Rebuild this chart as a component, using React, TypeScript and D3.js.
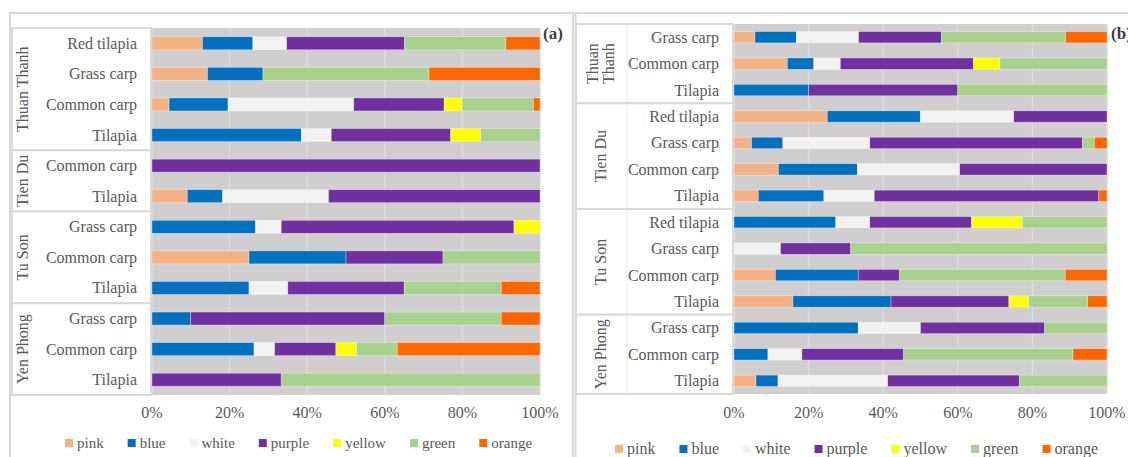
import React, { useMemo } from "react";
import * as d3 from "d3";

// Colour categories and their fills
const colorNames = ["pink", "blue", "white", "purple", "yellow", "green", "orange"];
const colorFills = ["#F4B183", "#0070C0", "#F2F2F2", "#7030A0", "#FFFF00", "#A9D18E", "#FF6600"];

const tickValues = [0, 0.2, 0.4, 0.6, 0.8, 1];

// Panel (a)
const groupsA = ["Thuan Thanh", "Tien Du", "Tu Son", "Yen Phong"];
const rowGroupA = [0, 0, 0, 0, 1, 1, 2, 2, 2, 3, 3, 3];
const rowLabelsA = [
  "Red tilapia", "Grass carp", "Common carp", "Tilapia",
  "Common carp", "Tilapia",
  "Grass carp", "Common carp", "Tilapia",
  "Grass carp", "Common carp", "Tilapia",
];
// percentages per colour: pink, blue, white, purple, yellow, green, orange
const valuesA = [
  [13.0, 13.0, 8.7, 30.4, 0, 26.1, 8.8],
  [14.3, 14.3, 0, 0, 0, 42.8, 28.6],
  [4.4, 15.2, 32.4, 23.3, 4.6, 18.4, 1.7],
  [0, 38.5, 7.7, 30.8, 7.7, 15.3, 0],
  [0, 0, 0, 100, 0, 0, 0],
  [9.1, 9.1, 27.3, 54.5, 0, 0, 0],
  [0, 26.7, 6.6, 60.0, 6.7, 0, 0],
  [25, 25, 0, 25, 0, 25, 0],
  [0, 25, 10, 30, 0, 25, 10],
  [0, 10, 0, 50, 0, 30, 10],
  [0, 26.3, 5.3, 15.8, 5.3, 10.5, 36.8],
  [0, 0, 0, 33.3, 0, 66.7, 0],
];

// Panel (b)
const groupsB = ["Thuan Thanh", "Tien Du", "Tu Son", "Yen Phong"];
const rowGroupB = [0, 0, 0, 1, 1, 1, 1, 2, 2, 2, 2, 3, 3, 3];
const rowLabelsB = [
  "Grass carp", "Common carp", "Tilapia",
  "Red tilapia", "Grass carp", "Common carp", "Tilapia",
  "Red tilapia", "Grass carp", "Common carp", "Tilapia",
  "Grass carp", "Common carp", "Tilapia",
];
const valuesB = [
  [5.6, 11.1, 16.7, 22.2, 0, 33.3, 11.1],
  [14.3, 7.1, 7.1, 35.7, 7.1, 28.7, 0],
  [0, 20, 0, 40, 0, 40, 0],
  [25, 25, 25, 25, 0, 0, 0],
  [4.7, 8.4, 23.3, 57.0, 0, 3.2, 3.4],
  [11.9, 21.2, 27.4, 39.5, 0, 0, 0],
  [6.5, 17.6, 13.5, 60.2, 0, 0, 2.2],
  [0, 27.3, 9.1, 27.3, 13.6, 22.7, 0],
  [0, 0, 12.5, 18.8, 0, 68.7, 0],
  [11.1, 22.2, 0, 11.1, 0, 44.4, 11.2],
  [15.8, 26.3, 0, 31.6, 5.3, 15.8, 5.2],
  [0, 33.3, 16.7, 33.3, 0, 16.7, 0],
  [0, 9.1, 9.1, 27.3, 0, 45.4, 9.1],
  [5.9, 5.9, 29.4, 35.3, 0, 23.5, 0],
];

const FONT = "'Liberation Serif', 'Times New Roman', serif";
const TEXT = "#595959";
const BORDER = "#D9D9D9";

let measureCtx: CanvasRenderingContext2D | null = null;
function textWidth(s: string, size: number, weight = "normal") {
  if (!measureCtx) measureCtx = document.createElement("canvas").getContext("2d");
  if (!measureCtx) return s.length * size * 0.5;
  measureCtx.font = `${weight} ${size}px 'Liberation Serif'`;
  return measureCtx.measureText(s).width;
}

type PanelProps = {
  tag: string;
  groups: string[];
  rowGroup: number[];
  rowLabels: string[];
  values: number[][];
  frameX: number;
  frameW: number;
  plotX0: number;
  plotX1: number;
  plotY0: number;
  plotY1: number;
  tableX: number;
  catLabelX: number;
  groupLabelX: number;
  dividerX?: number;
  barPadding: number;
  tickY: number;
  legendX: number;
  legendY: number;
  legendFont: number;
  tagX: number;
};

function Panel(p: PanelProps) {
  const x = d3.scaleLinear().domain([0, 1]).range([p.plotX0, p.plotX1]);
  const rowIdx = p.rowLabels.map((_, i) => i);
  const y = d3
    .scaleBand<number>()
    .domain(rowIdx)
    .range([p.plotY0, p.plotY1])
    .paddingInner(p.barPadding)
    .paddingOuter(p.barPadding / 2);
  const step = y.step();

  const series = useMemo(() => {
    const rows = p.values.map((v, i) => {
      const o: Record<string, number> = { row: i };
      colorNames.forEach((c, k) => (o[c] = v[k]));
      return o;
    });
    return d3
      .stack<Record<string, number>>()
      .keys(colorNames)
      .offset(d3.stackOffsetExpand)(rows);
  }, [p.values]);

  // group boundaries in row units
  const groupSpans = p.groups.map((g, gi) => {
    const idx = rowIdx.filter((i) => p.rowGroup[i] === gi);
    const top = p.plotY0 + step * idx[0];
    const bottom = p.plotY0 + step * (idx[idx.length - 1] + 1);
    return { name: g, top, bottom };
  });

  // legend layout
  const sw = 8;
  let lx = p.legendX;
  const legendItems = colorNames.map((c, k) => {
    const item = { name: c, fill: colorFills[k], x: lx };
    lx += sw + 4 + textWidth(c, p.legendFont) + 24;
    return item;
  });

  return (
    <g>
      <rect x={p.frameX} y={13} width={p.frameW} height={460} fill="#fff" stroke={BORDER} strokeWidth={2} />

      {/* plot background and gridlines */}
      <rect x={p.plotX0} y={p.plotY0} width={p.plotX1 - p.plotX0} height={p.plotY1 - p.plotY0} fill="#D0CECE" />
      {tickValues.map((t) => (
        <line key={t} x1={x(t)} x2={x(t)} y1={p.plotY0} y2={p.plotY1} stroke="#DCDCDC" strokeWidth={1.5} />
      ))}

      {/* stacked bars */}
      {series.map((s, k) => (
        <g key={s.key} fill={colorFills[k]}>
          {s.map((d, i) =>
            d[1] - d[0] > 0 ? (
              <rect
                key={i}
                x={x(d[0])}
                y={y(i)}
                width={x(d[1]) - x(d[0])}
                height={y.bandwidth()}
                stroke="#ffffff"
                strokeOpacity={0.55}
                strokeWidth={0.6}
              />
            ) : null
          )}
        </g>
      ))}

      {/* category table */}
      <line x1={p.tableX} x2={p.plotX0} y1={p.plotY0} y2={p.plotY0} stroke={BORDER} strokeWidth={2} />
      {groupSpans.map((gs, gi) => {
        const cx = p.groupLabelX;
        const cy = (gs.top + gs.bottom) / 2;
        const full = textWidth(gs.name, 16);
        const lines = full > gs.bottom - gs.top - 6 ? gs.name.split(" ") : [gs.name];
        const lh = 16;
        return (
          <g key={gi}>
            <rect x={p.tableX} y={gs.top} width={p.plotX0 - p.tableX - 1} height={gs.bottom - gs.top} fill="#fff" stroke={BORDER} strokeWidth={2} />
            {p.dividerX !== undefined && (
              <line x1={p.dividerX} x2={p.dividerX} y1={gs.top} y2={gs.bottom} stroke="#EBEBEB" strokeWidth={1} />
            )}
            <text
              transform={`translate(${cx},${cy}) rotate(-90)`}
              textAnchor="middle"
              fontFamily={FONT}
              fontSize={16}
              fill={TEXT}
            >
              {lines.map((ln, li) => (
                <tspan key={li} x={0} y={(li - (lines.length - 1) / 2) * lh + 5.5}>
                  {ln}
                </tspan>
              ))}
            </text>
          </g>
        );
      })}
      {p.rowLabels.map((lab, i) => (
        <text
          key={i}
          x={p.catLabelX}
          y={(y(i) as number) + y.bandwidth() / 2 + 5.5}
          textAnchor="end"
          fontFamily={FONT}
          fontSize={16}
          fill={TEXT}
        >
          {lab}
        </text>
      ))}

      {/* x axis tick labels */}
      {tickValues.map((t) => (
        <text key={t} x={x(t)} y={p.tickY} textAnchor="middle" fontFamily={FONT} fontSize={16} fill={TEXT}>
          {d3.format(".0%")(t)}
        </text>
      ))}

      {/* legend */}
      {legendItems.map((it) => (
        <g key={it.name}>
          <rect x={it.x} y={p.legendY - sw / 2} width={sw} height={sw} fill={it.fill} />
          <text x={it.x + sw + 4} y={p.legendY + 5} fontFamily={FONT} fontSize={p.legendFont} fill={TEXT}>
            {it.name}
          </text>
        </g>
      ))}

      <text x={p.tagX} y={39} fontFamily={FONT} fontSize={17} fontWeight="bold" fill="#404040">
        {p.tag}
      </text>
    </g>
  );
}

export default function App() {
  return (
    <svg
      width={1128}
      height={457}
      viewBox="0 0 1128 457"
      style={{ position: "absolute", left: 0, top: 0, background: "#fff" }}
    >
      <Panel
        tag="(a)"
        groups={groupsA}
        rowGroup={rowGroupA}
        rowLabels={rowLabelsA}
        values={valuesA}
        frameX={10}
        frameW={563}
        plotX0={152}
        plotX1={540}
        plotY0={28}
        plotY1={395}
        tableX={12}
        catLabelX={137}
        groupLabelX={22}
        barPadding={0.575}
        tickY={418}
        legendX={65}
        legendY={443}
        legendFont={15}
        tagX={543}
      />
      <Panel
        tag="(b)"
        groups={groupsB}
        rowGroup={rowGroupB}
        rowLabels={rowLabelsB}
        values={valuesB}
        frameX={575.5}
        frameW={570}
        plotX0={734}
        plotX1={1107}
        plotY0={24}
        plotY1={394}
        tableX={576}
        catLabelX={719}
        groupLabelX={600}
        dividerX={627}
        barPadding={0.57}
        tickY={418}
        legendX={615}
        legendY={449}
        legendFont={16}
        tagX={1111}
      />
    </svg>
  );
}
